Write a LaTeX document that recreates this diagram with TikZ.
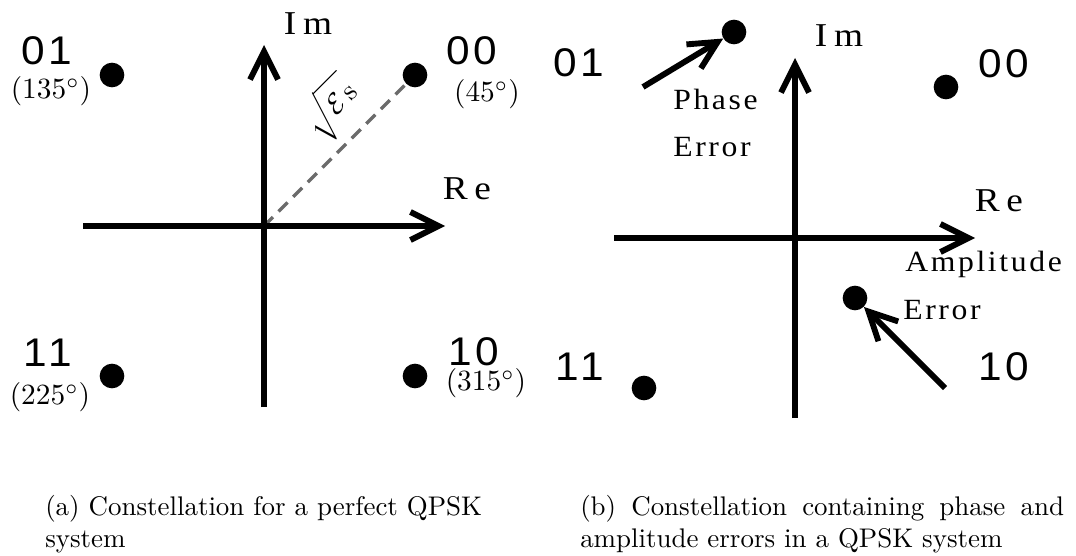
\documentclass[tikz,border=0pt]{standalone}
\usepackage{fontspec}
\usepackage{graphicx}
\usetikzlibrary{arrows.meta}
\newfontfamily\digitfont[LetterSpace=10,FakeStretch=1.06]{Liberation Sans}
\newfontfamily\axfont[LetterSpace=20,FakeStretch=1.12]{Liberation Serif}
\newfontfamily\errfont[LetterSpace=9,FakeStretch=1.08]{Liberation Serif}
\begin{document}
\begin{tikzpicture}[x=0.75pt,y=-0.75pt,
  axis/.style={line width=4.4pt, -{Straight Barb[length=21pt,width=21pt]}},
  dot/.style={circle, fill=black, inner sep=0pt, minimum size=18.5pt},
  txt/.style={inner sep=0pt, anchor=base},
  digits/.style={txt, font=\fontsize{30}{36}\selectfont\digitfont},
  axlbl/.style={txt, font=\fontsize{25}{30}\selectfont\axfont},
  errlbl/.style={txt, anchor=base west, font=\fontsize{22}{26}\selectfont\errfont},
  capnode/.style={inner sep=0pt, anchor=base west},
  radiusline/.style={draw=black!58, line width=2.4pt, dash pattern=on 9.5pt off 6pt}
]
\useasboundingbox (0,0) rectangle (1076,556);

% ---------- left panel ----------
\coordinate (O1) at (264,226);
\coordinate (imB1) at (264,407);
\coordinate (imT1) at (264,45);
\coordinate (reL1) at (83,226);
\coordinate (reR1) at (445,226);
\node[dot] (d01) at (112,75) {};
\node[dot] (d00) at (415,75) {};
\node[dot] (d11) at (112,376) {};
\node[dot] (d10) at (415,376) {};

\draw[radiusline] (O1) -- (d00);
\draw[axis] (reL1) -- (reR1);
\draw[axis] (imB1) -- (imT1);

\node[axlbl] (im1) at (308,35) {Im};
\node[axlbl] (re1) at (467,200) {Re};

\node[digits] (t01) at (47,65) {01};
\node[txt] (a01) at (51,99) {\scalebox{2.2}{$(135^\circ)$}};
\node[digits] (t00) at (472,65) {00};
\node[txt] (a00) at (487,102) {\scalebox{2.2}{$(45^\circ)$}};
\node[digits] (t11) at (48,367) {11};
\node[txt] (a11) at (50,405) {\scalebox{2.2}{$(225^\circ)$}};
\node[digits] (t10) at (474,365) {10};
\node[txt] (a10) at (486,391) {\scalebox{2.2}{$(315^\circ)$}};

\node[rotate=45, inner sep=0pt] (eps) at (332,109) {\scalebox{2.1}{$\sqrt{\vphantom{\big(}\mathcal{E}\,\mathrm{s}}$}};

% ---------- right panel ----------
\coordinate (O2) at (795,238);
\coordinate (imB2) at (795,418);
\coordinate (imT2) at (795,58);
\coordinate (reL2) at (614,238);
\coordinate (reR2) at (975,238);
\node[dot] (p01) at (734,32) {};
\node[dot] (p00) at (946,87) {};
\node[dot] (p11) at (644,388) {};
\node[dot] (p10) at (855,298) {};

\draw[axis] (reL2) -- (reR2);
\draw[axis] (imB2) -- (imT2);

\node[axlbl] (im2) at (839,47) {Im};
\node[axlbl] (re2) at (999,212) {Re};

\node[digits] (s01) at (579,77) {01};
\node[digits] (s00) at (1004,78) {00};
\node[digits] (s11) at (580,380) {11};
\node[digits] (s10) at (1004,380) {10};

\coordinate (phS) at (643,87);
\coordinate (amS) at (945,388);
\draw[axis] (phS) -- (p01);
\draw[axis] (amS) -- (p10);

\node[errlbl] (ph1) at (673,110) {Phase};
\node[errlbl] (ph2) at (673,157) {Error};
\node[errlbl] (am1) at (905,272) {Amplitude};
\node[errlbl] (am2) at (903,320) {Error};

% ---------- captions ----------
\node[capnode] (capa) at (45,515) {\scalebox{2.02}{(a) Constellation for a perfect QPSK}};
\node[capnode] (capa2) at (45,547) {\scalebox{2.02}{system}};
\node[capnode] (capb) at (580,515) {\scalebox{2.02}{\makebox[179.6pt][s]{(b) Constellation containing phase and}}};
\node[capnode] (capb2) at (580,547) {\scalebox{2.02}{amplitude errors in a QPSK system}};
\end{tikzpicture}
\end{document}
